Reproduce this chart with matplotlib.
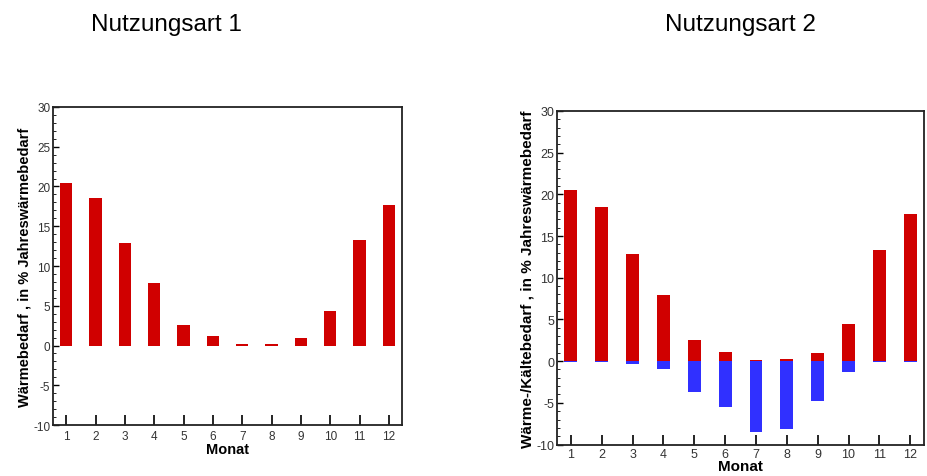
import matplotlib.pyplot as plt
import numpy as np
from matplotlib.ticker import MultipleLocator

plt.rcParams["font.family"] = ["Liberation Sans", "DejaVu Sans"]
plt.rcParams["axes.unicode_minus"] = False

months = np.arange(1, 13)
heat_1 = [20.5, 18.5, 12.9, 7.9, 2.55, 1.15, 0.13, 0.2, 0.97, 4.4, 13.3, 17.7]
heat_2 = [20.5, 18.5, 12.9, 7.9, 2.55, 1.15, 0.13, 0.2, 0.97, 4.4, 13.3, 17.7]
cool_2 = [-0.05, -0.05, -0.35, -0.95, -3.65, -5.55, -8.5, -8.1, -4.75, -1.25, -0.05, -0.05]

RED = "#d00000"
BLUE = "#3030ff"


def style_axis(ax, ylabel, tick_size, label_size, xpad=0, tpad=3.5):
    ax.set_xlim(0.55, 12.45)
    ax.set_ylim(-10, 30)
    ax.set_xticks(months)
    ax.yaxis.set_major_locator(MultipleLocator(5))
    ax.yaxis.set_minor_locator(MultipleLocator(1))
    ax.tick_params(axis="y", which="major", direction="in", length=4, width=1,
                   labelsize=tick_size, labelcolor="#333333", pad=2)
    ax.tick_params(axis="y", which="minor", direction="in", length=2.5, width=0.6)
    ax.tick_params(axis="x", which="major", direction="in", length=7, width=1.2,
                   labelsize=tick_size, labelcolor="#333333", pad=tpad)
    ax.tick_params(right=False, top=False)
    for s in ax.spines.values():
        s.set_linewidth(1.3)
        s.set_color("#222222")
    ax.set_xlabel("Monat", fontsize=label_size, fontweight="bold", labelpad=xpad)
    ax.set_ylabel(ylabel, fontsize=label_size, fontweight="bold", labelpad=1)


fig = plt.figure(figsize=(9.27, 4.77), dpi=100)

ax1 = fig.add_axes([0.0572, 0.1069, 0.3765, 0.6667])
ax1.bar(months, heat_1, width=0.42, color=RED)
style_axis(ax1, "Wärmebedarf , in % Jahreswärmebedarf", 8.5, 10.5)

ax2 = fig.add_axes([0.6009, 0.066, 0.396, 0.6992])
ax2.bar(months, heat_2, width=0.42, color=RED)
ax2.bar(months, cool_2, width=0.42, color=BLUE)
style_axis(ax2, "Wärme-/Kältebedarf , in % Jahreswärmebedarf", 9, 11, xpad=-0.5, tpad=2.5)

fig.text(166 / 927, 1 - 31 / 477, "Nutzungsart 1", fontsize=17.5, ha="center", va="baseline")
fig.text(740 / 927, 1 - 31 / 477, "Nutzungsart 2", fontsize=17.5, ha="center", va="baseline")

fig.savefig("out.png", dpi=100)
